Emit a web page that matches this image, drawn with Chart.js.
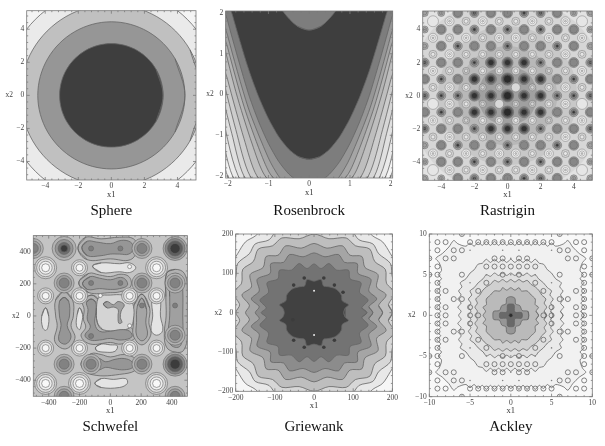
<!DOCTYPE html>
<html>
<head>
<meta charset="utf-8">
<script src="https://cdn.jsdelivr.net/npm/chart.js@4"></script>
<style>
body{margin:0;background:#fff;width:605px;height:446px;overflow:hidden;position:relative}
canvas{position:absolute}
</style>
</head>
<body>
<canvas id="cSphere"></canvas><canvas id="cRosenbrock"></canvas><canvas id="cRastrigin"></canvas>
<canvas id="cSchwefel"></canvas><canvas id="cGriewank"></canvas><canvas id="cAckley"></canvas>
<script>
// tick labels
var sphereTicks=[-4,-2,0,2,4];
var rosenTicks=[-2,-1,0,1,2];
var rastTicks=[-4,-2,0,2,4];
var schwefelTicks=[-400,-200,0,200,400];
var griewankTicks=[-200,-100,0,100,200];
var ackleyTicks=[-10,-5,0,5,10];

// Sphere: contours, quarter, outer one first
var sphereGrays=[234,192,150,62];
var sphereQuarters=[
 [[6.5,0],[5.63,3.25],[3.25,5.63],[0,6.5]],
 [[5.5,0],[4.76,2.75],[2.75,4.76],[0,5.5]],
 [[4.45,0],[3.85,2.22],[2.22,3.85],[0,4.45]],
 [[3.13,0],[2.71,1.57],[1.57,2.71],[0,3.13]]
];

// Rosenbrock: right half of each contour, bottom to top
var rosenGrays=[244,234,224,214,204,190,180,165,150,125,62];
var rosenHalves=[
 [[0,-6],[2,-2],[2.2,-1.16],[2.4,-.5]],
 [[0,-5.53],[1.88,-2],[2.2,-.69],[2.4,.2]],
 [[0,-5.03],[1.74,-2],[2.2,-.19],[2.4,.7]],
 [[0,-4.56],[1.6,-2],[1.9,-.95],[2.2,.28],[2.4,1.2]],
 [[0,-4.1],[1.45,-2],[1.8,-.86],[2.2,.74],[2.4,1.66]],
 [[0,-3.64],[1.28,-2],[1.6,-1.08],[2,.36],[2.3,1.65]],
 [[0,-3.17],[1.08,-2],[1.4,-1.21],[1.8,.07],[2.2,1.67],[2.4,2.6]],
 [[0,-2.85],[.92,-2],[1.2,-1.41],[1.6,-.29],[2,1.15],[2.3,2.44]],
 [[0,-2.56],[.4,-2.4],[.75,-2],[1,-1.56],[1.5,-.31],[2,1.44],[2.3,2.73]],
 [[0,-2.2],[.25,-2.14],[.5,-1.95],[.75,-1.64],[1,-1.2],[1.25,-.64],[1.5,.05],[2,1.8],[2.3,3.09]],
 [[0,-1.59],[.25,-1.53],[.5,-1.34],[.75,-1.03],[1,-.59],[1.25,-.03],[1.5,.66],[1.88,1.94],[2.1,2.82]]
];
var rosenCap=[[0,1.58],[.3,1.68],[.65,2.05],[.8,2.4]];

// Rastrigin: shading behind the lattice, then level read at each lattice site
var rastBandGrays=[214,200,184,160];
var rastBands=[
 [[5.6,0],[5.2,3],[3,5.2],[0,5.6]],
 [[4.2,0],[3.7,2],[2,3.7],[0,4.2]],
 [[3,0],[2.6,1.5],[1.5,2.6],[0,3]],
 [[1.8,0],[1.5,1],[1,1.5],[0,1.8]]
];
var rastMinX=[-5,-4,-3,-2,-1,0,1,2,3,4,5];
var rastMinY=[5,4,3,2,1,0,-1,-2,-3,-4,-5];
var rastMinRows=[
 "llgoggoogll",
 "lggogogoggl",
 "lgoggoggogl",
 "oggoDDDoggo",
 "gogDDdDDgog",
 "oooDDdDDooo",
 "gogDDdDDgog",
 "oggoDDDoggo",
 "lgoggoggogl",
 "lggogogoggl",
 "llgoggoogll"
];
var rastMaxX=[-4.5,-3.5,-2.5,-1.5,-.5,.5,1.5,2.5,3.5,4.5];
var rastMaxY=[4.5,3.5,2.5,1.5,.5,-.5,-1.5,-2.5,-3.5,-4.5];
var rastMaxRows=[
 "WRLRLLRLRW",
 "RLRLRRLRLR",
 "LRLLLLLLRL",
 "RLPLLLLPLR",
 "LRLPPCPLRL",
 "WRLPCPPLRW",
 "RLPLLLLPLR",
 "LRLLLLLLRL",
 "RLRLRRLRLR",
 "WRLRLLRLRW"
];

// Schwefel: region outlines, halos first
var schwefelGrays=[178,178,178,178,178,178,178,228,228,228,228,228,228,212,150,155,150,150,160,150,165,160];
var schwefelShapes=[
 [[-210,420],[-160,490],[-60,480],[60,490],[150,480],[175,420],[130,350],[0,355],[-150,350]],
 [[-205,205],[-140,265],[-70,255],[0,245],[70,260],[125,240],[130,180],[60,150],[0,145],[-140,145]],
 [[-190,-300],[-125,-235],[-60,-240],[0,-255],[90,-240],[165,-270],[170,-330],[90,-360],[-120,-365]],
 [[-300,150],[-245,100],[-240,0],[-255,-60],[-230,-140],[-290,-205],[-360,-160],[-345,-60],[-355,0],[-355,100]],
 [[365,265],[420,290],[480,265],[500,160],[500,-120],[475,-215],[420,-225],[365,-195],[350,-110],[362,0],[360,120]],
 [[-125,130],[-75,100],[-70,20],[-75,-30],[-50,-70],[0,-75],[70,-65],[130,-70],[165,-130],[70,-175],[0,-165],[-130,-175],[-190,-125],[-160,-70],[-175,-20],[-170,40],[-180,90]],
 [[205,135],[255,50],[250,-40],[262,-120],[205,-180],[150,-125],[150,-40],[155,70]],
 [[300,150],[325,100],[325,0],[340,-90],[300,-120],[265,-90],[275,0],[270,100]],
 [[-420,50],[-400,0],[-405,-70],[-420,-90],[-440,-70],[-445,0]],
 [[-200,50],[-180,10],[-190,-60],[-200,-85],[-220,-60],[-215,10]],
 [[-115,310],[-60,330],[60,325],[125,330],[165,300],[125,270],[60,275],[-60,270]],
 [[-95,-195],[-60,-175],[0,-180],[45,-185],[30,-220],[-40,-225],[-90,-215]],
 [[-100,-420],[-60,-390],[20,-395],[100,-390],[110,-420],[60,-445],[-60,-445]],
 [[-85,-40],[-90,50],[-70,120],[0,130],[80,130],[125,110],[150,60],[150,-20],[130,-70],[60,-90],[-50,-85]],
 [[-185,425],[-150,465],[-90,460],[0,450],[70,470],[130,460],[150,420],[120,385],[60,385],[0,385],[-60,375],[-150,375]],
 [[-180,205],[-130,245],[-70,235],[0,225],[65,240],[100,225],[110,190],[60,170],[0,165],[-70,170],[-150,165]],
 [[-165,-300],[-120,-260],[-70,-265],[-30,-285],[30,-270],[90,-265],[140,-285],[145,-320],[90,-335],[30,-330],[-30,-320],[-70,-335],[-120,-340]],
 [[-300,115],[-270,90],[-265,0],[-280,-60],[-255,-130],[-290,-175],[-335,-150],[-320,-60],[-330,0],[-330,90]],
 [[385,240],[420,265],[460,245],[470,160],[470,0],[470,-120],[455,-185],[420,-195],[385,-170],[375,-110],[385,0],[385,120]],
 [[-125,105],[-95,85],[-95,20],[-100,-50],[-70,-95],[0,-95],[70,-85],[125,-95],[140,-130],[70,-150],[0,-140],[-70,-150],[-130,-150],[-165,-120],[-130,-70],[-150,-20],[-145,40],[-155,85]],
 [[205,110],[235,40],[230,-40],[240,-120],[205,-155],[170,-120],[170,-40],[175,60]],
 [[-45,75],[-20,90],[20,70],[50,90],[90,70],[70,30],[65,-10],[75,-40],[55,-45],[50,0],[50,40],[20,55],[-20,50]]
];
var schwefelDarkest=[[420,420],[420,-300]];
var schwefelDark=[[-300,420]];
var schwefelGray=[[205,420],[-300,-300],[205,-300],[420,205],[420,-120],[-300,205],[205,205],[-500,420],[-300,-500],[420,-500],[-125,-300]];
var schwefelSmall=[[-125,420],[-125,205],[65,420],[65,205],[205,65],[420,65],[-125,-125]];
var schwefelHigh=[[-420,300],[300,300],[-420,-420],[300,-420],[-200,-420]];
var schwefelHighSmall=[[-200,300],[-420,-200],[300,-200],[-200,-200],[125,-200],[-420,125],[-200,125],[300,125],[125,125]];
var schwefelPeak=[[-65,127],[125,-61],[125,307]];

// Griewank: contours, upper right quarter, outer one first
var griewankGrays=[232,215,190,165,140,115,65];
var griewankQuarters=[
 [[265,0],[240,70],[225,100],[195,150],[175,180],[150,195],[100,240],[0,265]],
 [[232,0],[222,30],[218,60],[200,90],[195,125],[165,150],[150,175],[115,185],[92,212],[40,220],[0,232]],
 [[200,0],[190,20],[206,50],[185,75],[182,110],[155,130],[142,162],[106,170],[82,190],[38,188],[0,200]],
 [[175,0],[165,18],[184,45],[160,65],[163,97],[130,115],[122,143],[92,146],[72,170],[33,164],[0,176]],
 [[150,0],[140,15],[160,35],[140,55],[145,85],[112,100],[110,125],[78,128],[62,148],[28,142],[0,152]],
 [[135,0],[122,12],[138,32],[116,52],[120,76],[92,86],[88,108],[58,108],[38,125],[18,112],[0,124]],
 [[76,0],[80,12],[88,20],[72,30],[70,44],[62,55],[52,62],[36,66],[24,68],[18,84],[0,80]]
];
var griewankSpots=[[25,88],[-25,88],[25,-88],[-25,-88],[52,70],[-52,70],[52,-70],[-52,-70],[74,52],[-54,-18]];
var griewankHoles=[[0,56],[0,-57]];

// Ackley: contours, upper right quarter, outer one first
var ackleyGrays=[241,234,224,208,186,150,105];
var ackleyQuarters=[
 [[9,0],[8.6,.5],[9.1,1],[8.6,1.5],[9.1,2],[8.6,2.5],[9.1,3],[8.6,3.5],[9,4],[8.5,4.5],[8.9,5],[8.5,5.5],[8.8,6.5],[9.2,7],[8.4,7.6],[7.6,8.4],[7,9.2],[6.5,8.8],[5.5,8.5],[5,8.9],[4.5,8.5],[4,9],[3.5,8.6],[3,9.1],[2.5,8.6],[2,9.1],[1.5,8.6],[1,9.1],[.5,8.6],[0,9]],
 [[6.4,0],[6.1,.5],[6.5,1],[6.1,1.5],[6.5,2],[6.1,2.5],[6.4,3],[6,3.5],[6.2,4],[5.5,4.5],[5,5.2],[4.5,5.6],[4,6.3],[3.5,6.4],[3,6.9],[2.5,6.5],[2,6.9],[1.5,6.5],[1,6.9],[.5,6.5],[0,6.9]],
 [[5.2,0],[4.9,.5],[5.2,1],[4.9,1.5],[5.2,2],[4.8,2.5],[5,3],[4.5,3.4],[4,4],[3.4,4.5],[3,5],[2.5,4.8],[2,5.2],[1.5,4.9],[1,5.2],[.5,4.9],[0,5.2]],
 [[4.4,0],[4.1,.5],[4.4,1],[4.1,1.5],[4.3,2],[3.8,2.5],[3.5,3],[3,3.5],[2.5,3.8],[2,4.3],[1.5,4.1],[1,4.4],[.5,4.1],[0,4.4]],
 [[3.4,0],[3.1,.5],[3.4,1],[3,1.3],[3,2],[2.5,2.5],[2,3],[1.3,3],[1,3.4],[.5,3.1],[0,3.4]],
 [[2.2,0],[2.1,.5],[1.4,.6],[1.1,1.2],[.6,1.4],[.5,2.1],[0,2.3]],
 [[1.4,0],[1.3,.35],[.5,.4],[.4,1.3],[0,1.4]]
];
var ackleyQuarterX=[0,1,2,3,4,5,6,7,8,9,10];
var ackleyQuarterY=[10,9,8,7,6,5,4,3,2,1,0];
var ackleyRows=[
 "__.___o____",
 "oooooo__oo_",
 "_.___.oo_o_",
 ".oo____oo_o",
 "oooo_____o_",
 ".o_.__o__oo",
 "___o_.___o_",
 "____o___oo_",
 "______oo_o_",
 "_____o__oo_",
 "____oo__oo_"
];
var ackleyCentre=[[0,0]];

function gray(v){return "rgb("+v+","+v+","+v+")";}
var LINE="rgb(100,100,100)";

function mirror4(q){
  var out=[],i;
  for(i=0;i<q.length;i++) out.push([q[i][0],q[i][1]]);
  for(i=q.length-2;i>=0;i--) out.push([-q[i][0],q[i][1]]);
  for(i=1;i<q.length;i++) out.push([-q[i][0],-q[i][1]]);
  for(i=q.length-2;i>0;i--) out.push([q[i][0],-q[i][1]]);
  return out;
}
function mirrorX(h){
  var out=h.slice(),i;
  for(i=h.length-1;i>0;i--) out.push([-h[i][0],h[i][1]]);
  return out;
}
// closed outline; the ends overlap one point so the spline has no kink at the seam
function shape(pts,g,tension){
  var n=pts.length;
  return {data:[pts[n-1]].concat(pts,[pts[0],pts[1]]),showLine:true,fill:"shape",backgroundColor:gray(g),borderColor:LINE,borderWidth:.8,pointRadius:0,tension:tension===undefined?.35:tension};
}
function backdrop(lim,g){
  return {data:[[-lim,-lim],[lim,-lim],[lim,lim],[-lim,lim],[-lim,-lim]],showLine:true,fill:"shape",backgroundColor:gray(g),borderWidth:0,pointRadius:0,tension:0};
}
// nested rings round each site; rings = [[radius,gray],...], gray null = hollow
function rings(sites,list,width){
  return list.map(function(r){
    return {data:sites,showLine:false,pointRadius:r[0],pointBorderWidth:width===undefined?.6:width,
      pointBackgroundColor:r[1]===null?"rgba(0,0,0,0)":gray(r[1]),pointBorderColor:LINE};
  });
}
function lattice(rows,xs,ys,ch){
  var out=[];
  rows.forEach(function(row,j){
    for(var i=0;i<row.length;i++) if(row.charAt(i)==ch) out.push([xs[i],ys[j]]);
  });
  return out;
}
function quarterSites(pts){
  var out=[];
  pts.forEach(function(p){
    out.push(p);
    if(p[0]!=0) out.push([-p[0],p[1]]);
    if(p[1]!=0) out.push([p[0],-p[1]]);
    if(p[0]!=0&&p[1]!=0) out.push([-p[0],-p[1]]);
  });
  return out;
}

function sphereSets(){
  var s=[backdrop(5.12,244)];
  return s.concat(sphereQuarters.map(function(q,i){return shape(mirror4(q),sphereGrays[i]);}));
}
function rosenSets(){
  var s=[backdrop(2.048,252)];
  s=s.concat(rosenHalves.map(function(h,i){return shape(mirrorX(h),rosenGrays[i],.25);}));
  s.push(shape(mirrorX(rosenCap),125,.3));
  return s;
}
function rastSets(){
  var s=[backdrop(5.12,226)];
  s=s.concat(rastBands.map(function(q,i){
    var d=shape(mirror4(q),rastBandGrays[i]);d.borderWidth=0;return d;
  }));
  var minStyle={
    l:[[3.5,178],[2,160]],
    g:[[5,158],[3.8,135]],
    o:[[4.5,165],[3,130],[1.4,55]],
    D:[[5.5,140],[4.3,95],[3,50]],
    d:[[6.2,125],[5.2,85],[4,42]]
  };
  var maxStyle={
    W:[[5.5,230]],
    C:[[4.5,216]],
    R:[[4.5,230],[2.5,250],[1,205]],
    L:[[4,212],[2,230]],
    P:[[3.5,195],[1.8,212]]
  };
  Object.keys(maxStyle).forEach(function(k){
    s=s.concat(rings(lattice(rastMaxRows,rastMaxX,rastMaxY,k),maxStyle[k],.4));
  });
  Object.keys(minStyle).forEach(function(k){
    s=s.concat(rings(lattice(rastMinRows,rastMinX,rastMinY,k),minStyle[k],.5));
  });
  return s;
}
function schwefelSets(){
  var s=[backdrop(500,196)];
  s=s.concat(schwefelShapes.map(function(p,i){return shape(p,schwefelGrays[i],.4);}));
  s=s.concat(rings(schwefelHigh,[[11,208],[9,222],[6.5,238],[4,248]]));
  s=s.concat(rings(schwefelHighSmall,[[8,212],[6,230],[3.5,246]]));
  s=s.concat(rings(schwefelPeak,[[2,245]]));
  s=s.concat(rings(schwefelGray,[[10,178],[7.5,160],[5,130]]));
  s=s.concat(rings(schwefelDark,[[12,178],[9,150],[6,110],[3.5,60]]));
  s=s.concat(rings(schwefelDarkest,[[12,170],[10,135],[7.5,95],[5,60]]));
  s=s.concat(rings(schwefelSmall,[[2.5,125]]));
  return s;
}
function griewankSets(){
  var s=[backdrop(200,246)];
  s=s.concat(griewankQuarters.map(function(q,i){return shape(mirror4(q),griewankGrays[i],.3);}));
  s=s.concat(rings(griewankSpots,[[1.8,60]],0));
  s=s.concat(rings(griewankHoles,[[1,235]],0));
  return s;
}
function ackleySets(){
  var s=[backdrop(10,248)];
  s=s.concat(ackleyQuarters.map(function(q,i){return shape(mirror4(q),ackleyGrays[i],.3);}));
  var big=quarterSites(lattice(ackleyRows,ackleyQuarterX,ackleyQuarterY,"o"));
  var dots=quarterSites(lattice(ackleyRows,ackleyQuarterX,ackleyQuarterY,"."));
  s=s.concat(rings(big,[[2.5,null]],.8));
  s=s.concat(rings(dots,[[.8,130]],0));
  s=s.concat(rings(ackleyCentre,[[2,45]]));
  return s;
}

// inward frame ticks on all four sides
var frameTicks={
  id:"frameTicks",
  afterDatasetsDraw:function(chart){
    var a=chart.chartArea,ctx=chart.ctx,p=chart.options.plugins.frameTicks;
    var xs=chart.scales.x,ys=chart.scales.y;
    ctx.save();
    ctx.strokeStyle="rgb(120,120,120)";
    ctx.lineWidth=.8;
    ctx.strokeRect(a.left,a.top,a.right-a.left,a.bottom-a.top);
    function mark(v,major){
      var len=major?3:1.5,x=xs.getPixelForValue(v),y=ys.getPixelForValue(v);
      ctx.beginPath();
      ctx.moveTo(x,a.top);ctx.lineTo(x,a.top+len);
      ctx.moveTo(x,a.bottom);ctx.lineTo(x,a.bottom-len);
      ctx.moveTo(a.left,y);ctx.lineTo(a.left+len,y);
      ctx.moveTo(a.right,y);ctx.lineTo(a.right-len,y);
      ctx.stroke();
    }
    var n=Math.floor(xs.max/p.step+.001);
    for(var i=-n;i<=n;i++) mark(i*p.step,i%5==0);
    ctx.restore();
  }
};

function fmt(v){return v<0?"\u2212"+Math.abs(v):String(v);}

function panel(id,cell,plot,captionY,title,lim,tickVals,step,gap,sets){
  var cv=document.getElementById(id);
  cv.width=cell.w;cv.height=cell.h;
  cv.style.left=cell.x+"px";cv.style.top=cell.y+"px";
  cv.style.width=cell.w+"px";cv.style.height=cell.h+"px";
  var xH=19.5,capH=18;
  var capTop=captionY-capH/2;
  sets.forEach(function(d,i){d.order=-i;});
  new Chart(cv,{
    type:"scatter",
    data:{datasets:sets},
    plugins:[frameTicks],
    options:{
      responsive:false,animation:false,events:[],
      layout:{padding:{top:plot.t-cell.y,right:cell.x+cell.w-plot.r,left:0,bottom:cell.y+cell.h-capTop-capH}},
      plugins:{
        legend:{display:false},tooltip:{enabled:false},
        frameTicks:{step:step},
        title:{display:true,text:title,position:"bottom",fullSize:false,color:"#111",
          font:{family:"Liberation Serif",size:15,weight:"normal",lineHeight:1.2},
          padding:{top:capTop-plot.b-xH,bottom:0}}
      },
      scales:{
        x:{type:"linear",min:-lim,max:lim,
          afterFit:function(s){s.height=xH;},
          afterBuildTicks:function(s){s.ticks=tickVals.map(function(v){return {value:v};});},
          grid:{display:false,drawTicks:false},border:{display:false},
          title:{display:true,text:"x1",color:"#333",padding:0,font:{family:"Liberation Serif",size:8.5,lineHeight:1.2}},
          ticks:{padding:2,maxRotation:0,autoSkip:false,color:"#444",font:{family:"Liberation Serif",size:7.5},callback:function(v){return fmt(v);}}
        },
        y:{type:"linear",min:-lim,max:lim,
          afterFit:function(s){s.width=plot.l-cell.x;},
          afterBuildTicks:function(s){s.ticks=tickVals.map(function(v){return {value:v};});},
          grid:{display:false,drawTicks:false},border:{display:false},
          ticks:{padding:2.5,autoSkip:false,color:"#444",font:{family:"Liberation Serif",size:7.5},
            callback:function(v){return v===0?"x2"+gap+"0":fmt(v);}}
        }
      }
    }
  });
}

var row0={y:0,h:223},row1={y:223,h:223};
function cell(x,w,r){return {x:x,w:w,y:r.y,h:r.h};}
panel("cSphere",cell(0,200,row0),{l:26.7,r:196,t:10.7,b:180},210.7,"Sphere",5.12,sphereTicks,.4,"    ",sphereSets());
panel("cRosenbrock",cell(200,200,row0),{l:225.7,r:392.7,t:11,b:178},210.7,"Rosenbrock",2.048,rosenTicks,.2,"   ",rosenSets());
panel("cRastrigin",cell(400,205,row0),{l:422.7,r:592.3,t:11,b:180.3},210.7,"Rastrigin",5.12,rastTicks,.4,"  ",rastSets());
panel("cSchwefel",cell(0,200,row1),{l:33.3,r:196.3,t:233.7,b:396.3},427,"Schwefel",500,schwefelTicks,40,"    ",schwefelSets());
panel("cGriewank",cell(200,200,row1),{l:235.7,r:393.3,t:234,b:391.3},427,"Griewank",200,griewankTicks,20,"    ",griewankSets());
panel("cAckley",cell(400,205,row1),{l:429.3,r:592.3,t:234,b:396.7},427,"Ackley",10,ackleyTicks,1,"    ",ackleySets());
</script>
</body>
</html>
